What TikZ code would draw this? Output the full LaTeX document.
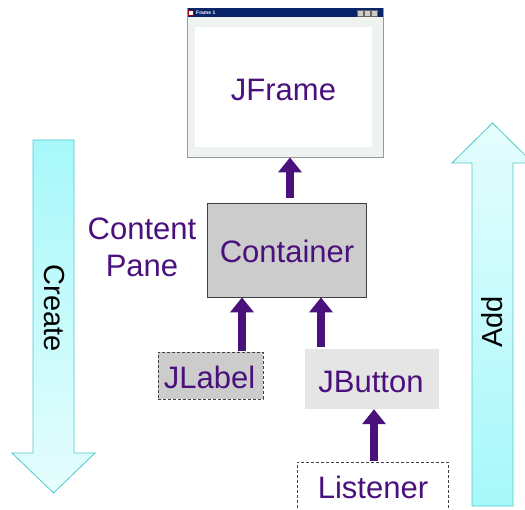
\documentclass[tikz,border=0pt]{standalone}
\usepackage{fontspec}
\setmainfont{Liberation Sans}
\usetikzlibrary{arrows.meta}
\definecolor{purp}{RGB}{74,16,124}
\definecolor{navy}{RGB}{10,36,106}
\definecolor{framebg}{RGB}{238,243,240}
\definecolor{boxgray}{RGB}{204,204,204}
\definecolor{btngray}{RGB}{229,229,229}
\definecolor{cyandark}{RGB}{166,248,250}
\definecolor{cyanlight}{RGB}{230,253,253}
\definecolor{cyanedge}{RGB}{80,200,204}
\tikzset{
  ptext/.style={text=purp, font=\fontsize{31}{37}\selectfont, inner sep=0pt},
  btext/.style={text=black, font=\fontsize{29}{30}\selectfont, inner sep=0pt},
  solidbox/.style={draw=black!75, line width=0.8pt, fill=boxgray, inner sep=0pt},
  dashbox/.style={draw=black!75, line width=0.8pt, dash pattern=on 3pt off 2pt, inner sep=0pt},
  parrow/.style={draw=purp, line width=8pt, -{Triangle[width=23pt,length=15pt]}},
  bigarrow/.style={draw=cyanedge, line width=0.8pt},
}
\begin{document}
\begin{tikzpicture}[x=1pt,y=-1pt]
\useasboundingbox (0,0) rectangle (525,510);
% JFrame window
\node[draw=black!40, line width=0.8pt, fill=framebg, minimum width=196pt, minimum height=149pt, inner sep=0pt] (win) at (285,82.5) {};
\node[fill=navy, minimum width=195pt, minimum height=9pt, inner sep=0pt] (title) at (285,13) {};
\node[text=white, font=\fontsize{5}{5}\selectfont\bfseries, anchor=west, inner sep=0pt] (ttext) at (196,13) {Frame 1};
\node[fill=white, draw=red!60!black, line width=0.3pt, minimum width=5pt, minimum height=5pt, inner sep=0pt] (ticon) at (191,13) {};
\foreach \i/\bx in {1/360,2/367,3/374}{
  \node[fill=black!20, draw=black!60, line width=0.3pt, minimum width=6pt, minimum height=6pt, inner sep=0pt] (tb\i) at (\bx,13) {};
}
\node[fill=white, minimum width=177pt, minimum height=120pt, inner sep=0pt] (panel) at (283.5,87) {};
\node[ptext] (jframe) at (283.5,90) {JFrame};
% Container
\node[solidbox, minimum width=159pt, minimum height=94pt] (container) at (286.5,250) {};
\node[ptext] (contxt) at (287,251) {Container};
\node[ptext, align=center] (cp) at (142,247) {Content\\Pane};
% JLabel
\node[dashbox, fill=boxgray, minimum width=105pt, minimum height=47pt] (jlabel) at (210.5,375.5) {};
\node[ptext] (jltxt) at (209.5,377) {JLabel};
% JButton
\node[fill=btngray, minimum width=134pt, minimum height=60pt, inner sep=0pt] (jbutton) at (372,379) {};
\node[ptext] (jbtxt) at (371,382) {JButton};
% Listener
\node[dashbox, fill=white, minimum width=151pt, minimum height=50pt] (listener) at (372.5,487) {};
\node[ptext] (lstxt) at (373,487) {Listener};
% connector coordinates
\coordinate (c1) at (290,0);
\coordinate (c2) at (242,0);
\coordinate (c3) at (321,0);
\coordinate (c4) at (374,0);
\draw[parrow, shorten <=5pt] (container.north -| c1) -- (win.south -| c1);
\draw[parrow] ([yshift=1pt]jlabel.north -| c2) -- (container.south -| c2);
\draw[parrow] ([yshift=2pt]jbutton.north -| c3) -- (container.south -| c3);
\draw[parrow] ([yshift=1pt]listener.north -| c4) -- (jbutton.south -| c4);
% Create arrow
\shade[top color=cyandark, bottom color=cyanlight] (33,140) -- (74,140) -- (74,453) -- (95,453) -- (53.5,493) -- (12,453) -- (33,453) -- cycle;
\draw[bigarrow] (33,140) -- (74,140) -- (74,453) -- (95,453) -- (53.5,493) -- (12,453) -- (33,453) -- cycle;
\node[btext, rotate=-90] (create) at (54,308) {Create};
% Add arrow
\shade[top color=cyanlight, bottom color=cyandark] (472,506) -- (513,506) -- (513,163) -- (533,163) -- (492.5,123) -- (452,163) -- (472,163) -- cycle;
\draw[bigarrow] (472,506) -- (513,506) -- (513,163) -- (533,163) -- (492.5,123) -- (452,163) -- (472,163) -- cycle;
\node[btext, rotate=90] (add) at (492,322) {Add};
\end{tikzpicture}
\end{document}
